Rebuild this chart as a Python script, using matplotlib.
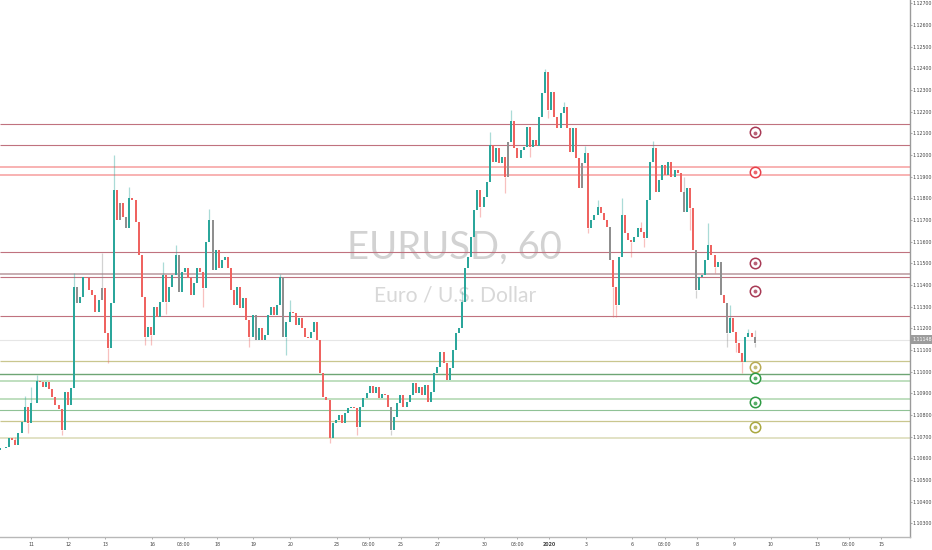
import numpy as np
import matplotlib.pyplot as plt
from matplotlib.ticker import FixedLocator, FixedFormatter

closes = [
    1.10646, 1.10646, 1.10654, 1.10692, 1.10685, 1.10661, 1.10715, 1.10769, 1.10838, 1.10762,
    1.10854, 1.10854, 1.10958, 1.10954, 1.10928, 1.10951, 1.10919, 1.10884, 1.10846, 1.10826,
    1.10731, 1.10907, 1.10846, 1.10923, 1.11392, 1.11315, 1.11346, 1.11438, 1.11431, 1.11377,
    1.11354, 1.11277, 1.11331, 1.11385, 1.11177, 1.11108, 1.11315, 1.11838, 1.11700, 1.11777,
    1.11712, 1.11662, 1.11800, 1.11792, 1.11692, 1.11538, 1.11346, 1.11161, 1.11208, 1.11169,
    1.11300, 1.11254, 1.11323, 1.11446, 1.11323, 1.11392, 1.11446, 1.11538, 1.11369, 1.11461,
    1.11477, 1.11431, 1.11354, 1.11408, 1.11477, 1.11461, 1.11385, 1.11600, 1.11700, 1.11469,
    1.11561, 1.11477, 1.11515, 1.11531, 1.11477, 1.11377, 1.11308, 1.11392, 1.11292, 1.11338,
    1.11238, 1.11161, 1.11261, 1.11146, 1.11200, 1.11146, 1.11169, 1.11261, 1.11300, 1.11261,
    1.11308, 1.11438, 1.11161, 1.11231, 1.11277, 1.11271, 1.11215, 1.11246, 1.11200, 1.11161,
    1.11154, 1.11184, 1.11231, 1.11146, 1.10992, 1.10884, 1.10869, 1.10692, 1.10762, 1.10777,
    1.10800, 1.10762, 1.10808, 1.10831, 1.10838, 1.10831, 1.10746, 1.10838, 1.10877, 1.10900,
    1.10934, 1.10900, 1.10928, 1.10877, 1.10897, 1.10892, 1.10838, 1.10731, 1.10792, 1.10854,
    1.10892, 1.10838, 1.10861, 1.10892, 1.10946, 1.10900, 1.10928, 1.10892, 1.10938, 1.10861,
    1.10907, 1.10995, 1.11023, 1.11092, 1.11039, 1.10961, 1.11015, 1.11100, 1.11177, 1.11200,
    1.11323, 1.11477, 1.11531, 1.11623, 1.11746, 1.11838, 1.11761, 1.11807, 1.11877, 1.12046,
    1.11969, 1.12032, 1.11963, 1.11992, 1.11900, 1.12061, 1.12158, 1.12031, 1.11985, 1.12023,
    1.12038, 1.12130, 1.12038, 1.12069, 1.12041, 1.12177, 1.12285, 1.12384, 1.12207, 1.12292,
    1.12177, 1.12123, 1.12192, 1.12223, 1.12123, 1.12015, 1.12123, 1.11985, 1.11846, 1.11962,
    1.12008, 1.11662, 1.11700, 1.11723, 1.11761, 1.11731, 1.11700, 1.11669, 1.11515, 1.11392,
    1.11308, 1.11531, 1.11723, 1.11638, 1.11608, 1.11600, 1.11623, 1.11662, 1.11646, 1.11615,
    1.11792, 1.11969, 1.12031, 1.11831, 1.11885, 1.11954, 1.11907, 1.11969, 1.11900, 1.11931,
    1.11915, 1.11831, 1.11738, 1.11846, 1.11754, 1.11561, 1.11377, 1.11438, 1.11446, 1.11515,
    1.11585, 1.11538, 1.11484, 1.11508, 1.11354, 1.11315, 1.11177, 1.11246, 1.11184, 1.11131,
    1.11085, 1.11046, 1.11161, 1.11177, 1.11161, 1.11131,
]
first_open = 1.10640

# only the wicks that stand out, bar index -> price
high_wicks = {
    5: 1.10700, 8: 1.10890, 10: 1.10930, 12: 1.10985, 24: 1.11455, 33: 1.11546, 37: 1.11999, 42: 1.11850,
    53: 1.11507, 57: 1.11585, 68: 1.11749, 91: 1.11450, 94: 1.11330, 150: 1.11370, 159: 1.12107,
    166: 1.12208, 177: 1.12395, 183: 1.12245, 190: 1.12040, 194: 1.11790, 202: 1.11801, 208: 1.11690,
    212: 1.12065, 222: 1.11900, 230: 1.11686, 237: 1.11307, 243: 1.11197, 245: 1.11190,
}
low_wicks = {
    9: 1.10715, 20: 1.10708, 35: 1.11039, 47: 1.11123, 49: 1.11123, 54: 1.11265, 66: 1.11300, 81: 1.11115,
    93: 1.11077, 107: 1.10671, 116: 1.10708, 127: 1.10708, 156: 1.11715, 164: 1.11824, 172: 1.11992,
    178: 1.12171, 191: 1.11640, 199: 1.11254, 200: 1.11254, 205: 1.11531, 209: 1.11577, 224: 1.11654,
    226: 1.11340, 232: 1.11455, 236: 1.11115, 239: 1.11092, 241: 1.10993, 245: 1.11115,
}
grey_bars = [25, 33, 39, 41, 58, 69, 83, 92, 127, 165, 189, 198, 222, 226, 234, 236, 245]

dark_levels = [1.12142, 1.12045, 1.11550, 1.11435, 1.11255]
pink_levels = [1.11946, 1.11909]
grey_red_level = 1.11452
olive_levels = [1.11051, 1.10774]
pale_olive_level = 1.10695
dark_green_level = 1.10988
light_green_levels = [1.10957, 1.10873]
green_level = 1.10825
last_price = 1.11148

marker_prices = [1.12105, 1.11923, 1.11503, 1.11374, 1.11023, 1.10972, 1.10858, 1.10746]
marker_colors = ['#a83a55', '#e8404a', '#a83a55', '#a83a55', '#b8ab55', '#2e9a44', '#2e9a44', '#aaa840']

x_ticks = [10.2, 22.2, 34.1, 49.4, 59.7, 70.5, 82.3, 94.3, 109.4, 119.8, 130.2, 142.2,
           157.3, 167.9, 178.2, 190.3, 205.2, 215.9, 226.3, 238.3, 250.3, 265.3, 275.6, 286.2]
x_labels = ['11', '12', '13', '16', '03:00', '18', '19', '20', '23', '03:00', '25', '27',
            '30', '03:00', '2020', '3', '6', '03:00', '8', '9', '10', '13', '03:00', '15']
y_ticks = [1.103 + i * 0.001 for i in range(25)]

closes = np.array(closes)
opens = np.concatenate(([first_open], closes[:-1]))
idx = np.arange(len(closes))
up = closes >= opens

colors = np.where(up, '#2ba69b', '#ef6360').astype(object)
colors[grey_bars] = '#8f8f8f'

fig = plt.figure(figsize=(9.32, 5.5), dpi=100)
ax = fig.add_axes([0, 13 / 550, 909.5 / 932, 537 / 550])
ax.set_xlim(0, 909.5 / 3.08)
ax.set_ylim(1.10237, 1.127152)

# watermark
ax.text(0.5, 0.5385, 'EURUSD, 60', transform=ax.transAxes, ha='center', va='center',
        family='Lato', fontsize=27.5, color='#d2d2d2', zorder=1)
ax.text(0.5, 0.4505, 'Euro / U.S. Dollar', transform=ax.transAxes, ha='center', va='center',
        family='Lato', fontsize=15.2, color='#d8d8d8', zorder=1)

# support / resistance lines
ax.axhline(last_price, color='#e6e6e6', lw=0.8, zorder=2)
ax.hlines(dark_levels, 0, 1, transform=ax.get_yaxis_transform(), color='#c0727f', lw=0.8, zorder=2)
ax.hlines(pink_levels, 0, 1, transform=ax.get_yaxis_transform(), color='#f8adad', lw=1.3, zorder=2)
ax.axhline(grey_red_level, color='#c4a8ac', lw=1.3, zorder=2)
ax.hlines(olive_levels, 0, 1, transform=ax.get_yaxis_transform(), color='#c9c68e', lw=0.9, zorder=2)
ax.axhline(pale_olive_level, color='#dfdfc0', lw=1.3, zorder=2)
ax.axhline(dark_green_level, color='#6ea574', lw=1.0, zorder=2)
ax.hlines(light_green_levels, 0, 1, transform=ax.get_yaxis_transform(), color='#aed6ae', lw=1.1, zorder=2)
ax.axhline(green_level, color='#90c296', lw=0.8, zorder=2)

# candles
tops = np.maximum(opens, closes)
bottoms = np.minimum(opens, closes)
for i, price in high_wicks.items():
    ax.vlines(i, tops[i], price, color=colors[i], alpha=0.4, lw=0.9, zorder=3)
for i, price in low_wicks.items():
    ax.vlines(i, bottoms[i], price, color=colors[i], alpha=0.4, lw=0.9, zorder=3)
ax.bar(idx, tops - bottoms, bottom=bottoms, width=0.66, color=list(colors), lw=0, zorder=4)

# alert markers
marker_x = 245.1
for price, c in zip(marker_prices, marker_colors):
    ax.plot(marker_x, price, 'o', ms=7.5, mfc='white', mec=c, mew=1.1, zorder=5)
    ax.plot(marker_x, price - 0.00003, 'o', ms=2.8, color=c, alpha=0.8, mew=0, zorder=6)

for side in ['top', 'left']:
    ax.spines[side].set_visible(False)
ax.spines['right'].set_color('#9a9a9a')
ax.spines['bottom'].set_color('#b8b8b8')
ax.spines['right'].set_linewidth(1.0)
ax.spines['bottom'].set_linewidth(1.0)

ax.xaxis.set_major_locator(FixedLocator(x_ticks))
ax.xaxis.set_major_formatter(FixedFormatter(x_labels))
ax.yaxis.tick_right()
ax.yaxis.set_major_locator(FixedLocator(y_ticks))
ax.yaxis.set_major_formatter(FixedFormatter(['%.5f' % v for v in y_ticks]))
ax.tick_params(axis='x', length=1.5, width=0.5, color='#888888', labelsize=3.4, labelcolor='#444444', pad=2)
ax.tick_params(axis='y', length=1.5, width=0.5, color='#888888', labelsize=3.4, labelcolor='#444444', pad=0.8)
for label in ax.get_xticklabels():
    if label.get_text() == '2020':
        label.set_fontweight('bold')

ax.annotate('%.5f' % last_price, xy=(1, last_price), xycoords=ax.get_yaxis_transform(),
            xytext=(1.8, 0), textcoords='offset points', va='center', ha='left', fontsize=3.4,
            color='white', bbox=dict(boxstyle='square,pad=0.45', fc='#9c9c9c', ec='none'),
            annotation_clip=False, zorder=7)

fig.savefig('out.png', dpi=100)
